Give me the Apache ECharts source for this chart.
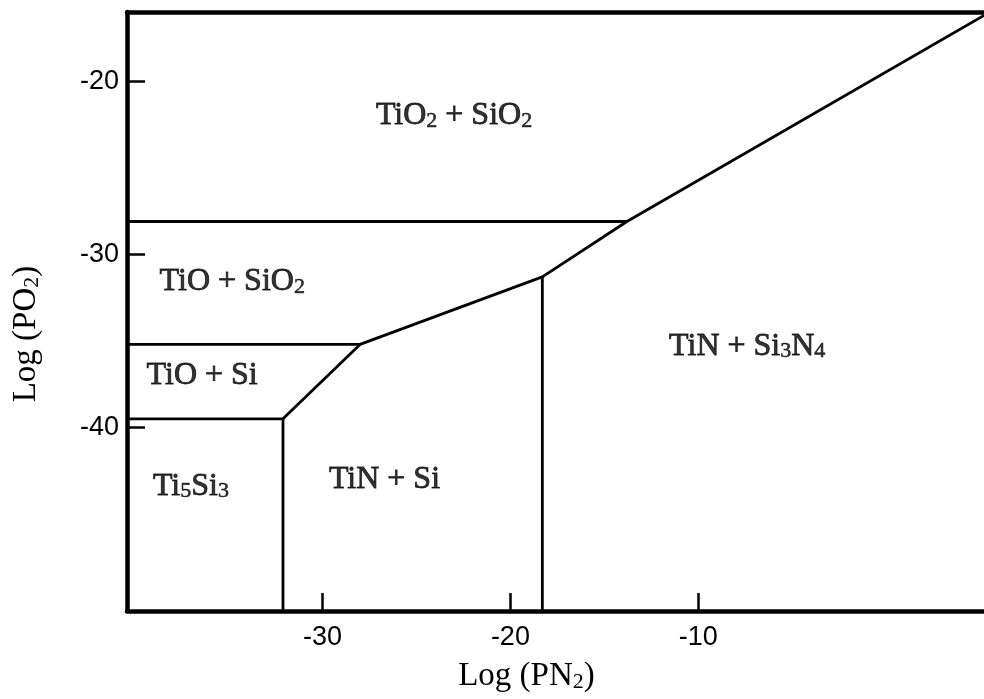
<!DOCTYPE html>
<html>
<head>
<meta charset="utf-8">
<title>Ti-Si-N-O stability diagram</title>
<script src="https://cdn.jsdelivr.net/npm/echarts@6/dist/echarts.min.js"></script>
<style>
  html, body { margin: 0; padding: 0; background: #fff; }
  #main { width: 984px; height: 699px; }
</style>
</head>
<body>
<div id="main"></div>
<script>
// axis window, log units
var xMin = -40.4, xMax = 5.2;
var yMin = -50.6, yMax = -16;
var xTicks = [-30, -20, -10];
var yTicks = [-20, -30, -40];

// phase boundaries [logPN2, logPO2]
var nitrideOxideLine = [[-32.1, -39.5], [-28, -35.2], [-18.3, -31.3], [-13.8, -28.1], [5.2, -16.2]];
var tio2Line = [[-40.4, -28.1], [-13.8, -28.1]];
var tioSio2Line = [[-40.4, -35.2], [-28, -35.2]];
var tioSiLine = [[-40.4, -39.5], [-32.1, -39.5]];
var ti5si3Line = [[-32.1, -39.5], [-32.1, -50.6]];
var si3n4Line = [[-18.3, -31.3], [-18.3, -50.6]];

// phase field names and where they sit
var phaseNames = ['TiO{s|2} + SiO{s|2}', 'TiO + SiO{s|2}', 'TiO + Si', 'Ti{s|5}Si{s|3}', 'TiN + Si', 'TiN + Si{s|3}N{s|4}'];
var phaseX = [-23.0, -34.8, -36.4, -37.0, -26.7, -7.4];
var phaseY = [-22.0, -31.6, -37.0, -43.4, -43.0, -35.3];

var chart = echarts.init(document.getElementById('main'));

var serif = '"Liberation Serif", "Times New Roman", serif';
var sans = '"Liberation Sans", Arial, sans-serif';
var ink = '#000';

function sub(size, border) {
    return { fontSize: size, fontFamily: serif, color: ink, lineHeight: 8, verticalAlign: 'bottom',
        textBorderColor: ink, textBorderWidth: border };
}

function boundary(pts) {
    return {
        type: 'line',
        data: pts,
        symbol: 'none',
        silent: true,
        lineStyle: { color: ink, width: 2.8 },
        z: 3
    };
}

var option = {
    animation: false,
    backgroundColor: '#fff',
    grid: { left: 127, right: 0, top: 12, bottom: 88 },
    xAxis: [{
        type: 'value',
        min: xMin,
        max: xMax,
        name: 'Log (PN{s|2})',
        nameLocation: 'middle',
        nameGap: 49,
        nameTextStyle: {
            fontFamily: serif, fontSize: 33, color: ink,
            padding: [0, 58, 0, 0],
            rich: { s: sub(22, 0) }
        },
        axisLine: { show: true, onZero: false, lineStyle: { color: ink, width: 4.5 } },
        axisTick: { show: true, inside: true, length: 18, customValues: xTicks, lineStyle: { color: ink, width: 2.5 } },
        axisLabel: { customValues: xTicks, margin: 13, fontFamily: sans, fontSize: 27, color: ink },
        splitLine: { show: false }
    }, {
        type: 'value',
        position: 'top',
        min: xMin,
        max: xMax,
        axisLine: { show: true, onZero: false, lineStyle: { color: ink, width: 4.5 } },
        axisTick: { show: false },
        axisLabel: { show: false },
        splitLine: { show: false }
    }],
    yAxis: {
        type: 'value',
        min: yMin,
        max: yMax,
        name: 'Log (PO{s|2})',
        nameLocation: 'middle',
        nameGap: 84,
        nameTextStyle: {
            fontFamily: serif, fontSize: 33, color: ink,
            padding: [0, 45, 0, 0],
            rich: { s: sub(22, 0) }
        },
        axisLine: { show: true, onZero: false, lineStyle: { color: ink, width: 4.5 } },
        axisTick: { show: true, inside: true, length: 18, customValues: yTicks, lineStyle: { color: ink, width: 2.5 } },
        axisLabel: { customValues: yTicks, margin: 8, fontFamily: sans, fontSize: 27, color: ink },
        splitLine: { show: false }
    },
    series: [
        boundary(nitrideOxideLine),
        boundary(tio2Line),
        boundary(tioSio2Line),
        boundary(tioSiLine),
        boundary(ti5si3Line),
        boundary(si3n4Line),
        {
            type: 'scatter',
            symbolSize: 0,
            silent: true,
            data: phaseNames.map(function (n, i) {
                return { name: n, value: [phaseX[i], phaseY[i]] };
            }),
            label: {
                show: true,
                position: 'inside',
                formatter: function (p) { return p.name; },
                fontFamily: serif,
                fontSize: 32,
                color: ink,
                textBorderColor: ink,
                textBorderWidth: 0.8,
                rich: { s: sub(22, 0.6) }
            },
            z: 4
        }
    ]
};

chart.setOption(option);
</script>
</body>
</html>
